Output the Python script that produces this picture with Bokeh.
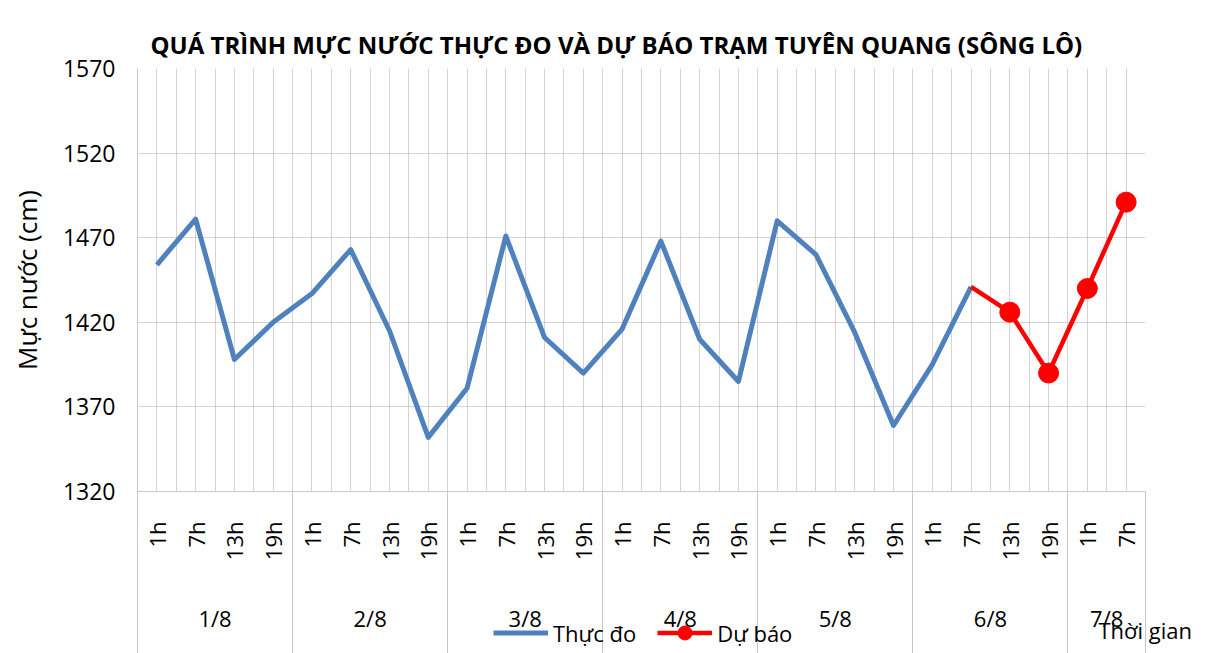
import math
from bokeh.plotting import figure
from bokeh.layouts import column
from bokeh.models import (FactorRange, Range1d, CategoricalAxis, LinearAxis, FixedTicker, Grid,
                          Legend, LegendItem, Label, Title)
from bokeh.embed import file_html
from bokeh.resources import INLINE

# ---------------- data ----------------
days = ["1/8", "2/8", "3/8", "4/8", "5/8", "6/8", "7/8"]
hours = ["1h", "7h", "13h", "19h"]
hours_last_day = ["1h", "7h"]

observed = [1454, 1481, 1398, 1420,
            1437, 1463, 1415, 1352,
            1381, 1471, 1411, 1390,
            1416, 1468, 1410, 1385,
            1480, 1460, 1414, 1359,
            1395, 1441]
forecast = [1441, 1426, 1390, 1440, 1491]

y_ticks = [1320, 1370, 1420, 1470, 1520, 1570]

title_text = "QUÁ TRÌNH MỰC NƯỚC THỰC ĐO VÀ DỰ BÁO TRẠM TUYÊN QUANG (SÔNG LÔ)"
y_label = "Mực nước (cm)"
x_label = "Thời gian"
obs_name = "Thực đo"
fc_name = "Dự báo"

factors = [(d, h) for d in days[:-1] for h in hours] + [(days[-1], h) for h in hours_last_day]
obs_x = factors[:len(observed)]
fc_x = factors[len(observed) - 1:len(observed) - 1 + len(forecast)]

# ---------------- style / layout ----------------
FONT = "Open Sans"
GRAY = "#c8c8c8"
GRID = "#a8a8a8"
BLUE = "#4f81bd"
RED = "#ff0000"
y_min, y_max = y_ticks[0], y_ticks[-1]

W, H = 1219, 653
H_MAIN = 640
B_LEFT, B_RIGHT, B_TOP = 137, 74, 68
FRAME_BOTTOM = 491
H_STRIP = H - FRAME_BOTTOM

x_range = FactorRange(factors=factors, factor_padding=0, group_padding=0,
                      subgroup_padding=0, range_padding=0)
p = figure(width=W, height=H_MAIN, x_range=x_range, y_range=Range1d(y_min, y_max),
           output_backend="svg", toolbar_location=None,
           x_axis_location=None, y_axis_location=None,
           min_border_left=B_LEFT, min_border_right=B_RIGHT, min_border_top=B_TOP,
           min_border_bottom=H_MAIN - FRAME_BOTTOM)
p.center = []   # drop default grids
p.outline_line_color = None
p.background_fill_color = "white"
p.border_fill_color = "white"

p.title = Title(text=title_text, align="left", offset=13, text_font=FONT,
                text_font_size="24px", text_font_style="bold", text_color="black", standoff=15)

# grids (dotted, at every category and between categories)
n_cat = len(factors)
xgrid = Grid(dimension=0, ticker=FixedTicker(ticks=[0.5 * i for i in range(1, 2 * n_cat + 1)]),
             grid_line_color=GRID, grid_line_dash="1 1", grid_line_width=1)
ygrid = Grid(dimension=1, ticker=FixedTicker(ticks=y_ticks),
             grid_line_color=GRID, grid_line_dash="1 1", grid_line_width=1)
p.add_layout(xgrid, "center")
p.add_layout(ygrid, "center")

# y axis
yaxis = LinearAxis(ticker=FixedTicker(ticks=y_ticks), axis_label=y_label,
                   axis_label_text_font=FONT, axis_label_text_font_size="26px",
                   axis_label_text_font_style="normal", axis_label_text_color="black",
                   axis_label_standoff=15,
                   major_label_text_font=FONT, major_label_text_font_size="23px",
                   major_label_text_color="black", major_label_standoff=22,
                   major_tick_out=0, major_tick_in=0, minor_tick_out=0, minor_tick_in=0,
                   axis_line_color=GRAY)
p.add_layout(yaxis, "left")

# x axis: hours (inner level)
xa = CategoricalAxis(major_label_orientation=math.pi / 2, major_label_standoff=30,
                     major_label_text_font=FONT, major_label_text_font_size="22px",
                     major_label_text_color="black",
                     group_text_font_size="1px", group_text_alpha=0,
                     major_tick_out=0, major_tick_in=0,
                     axis_line_color=GRAY, separator_line_color=None)
p.add_layout(xa, "below")
# x axis: days (outer level)
xb = CategoricalAxis(major_label_text_font_size="1px", major_label_text_alpha=0,
                     major_label_standoff=39,
                     group_text_font=FONT, group_text_font_size="22px", group_text_color="black",
                     group_text_font_style="normal", group_label_orientation="horizontal",
                     major_tick_out=0, major_tick_in=0,
                     axis_line_color=None, separator_line_color=None)
p.add_layout(xb, "below")

# series
p.line(obs_x, observed, line_color=BLUE, line_width=5, line_join="round")
p.line(fc_x, forecast, line_color=RED, line_width=4.5, line_join="round")
p.scatter(fc_x[1:], forecast[1:], size=20, marker="circle", fill_color=RED, line_color=RED)

# ---------------- transparent overlay strip under the plot area ----------------
cat_px = (W - B_LEFT - B_RIGHT) / n_cat
p2 = figure(width=W, height=H_STRIP,
            x_range=Range1d(-B_LEFT / cat_px, n_cat + B_RIGHT / cat_px), y_range=Range1d(0, 1),
            output_backend="svg", toolbar_location=None,
            x_axis_location=None, y_axis_location=None,
            min_border_left=0, min_border_right=0, min_border_top=0, min_border_bottom=0,
            margin=(-(H_MAIN - FRAME_BOTTOM), 0, 0, 0))
p2.center = []
p2.outline_line_color = None
p2.background_fill_alpha = 0
p2.border_fill_alpha = 0
for fig in (p, p2):
    if "frame_align" in fig.properties():
        fig.frame_align = False

# day separators and side lines of the category area
bounds = [0]
for d in days:
    bounds.append(bounds[-1] + sum(1 for f in factors if f[0] == d))
sep = Grid(dimension=0, ticker=FixedTicker(ticks=bounds),
           grid_line_color=GRAY, grid_line_width=1)
p2.add_layout(sep, "center")

# legend-only renderers (one placeholder row each, nothing visible in the strip)
nan = float("nan")
leg_blue = p2.line(x=[nan], y=[nan], line_color=BLUE, line_width=5)
leg_red = p2.line(x=[nan], y=[nan], line_color=RED, line_width=4.5)
leg_red_pt = p2.scatter(x=[nan], y=[nan], size=20, marker="circle",
                        fill_color=RED, line_color=RED)

legend = Legend(items=[LegendItem(label=obs_name, renderers=[leg_blue]),
                       LegendItem(label=fc_name, renderers=[leg_red, leg_red_pt])],
                orientation="horizontal", location=(493, 3),
                border_line_color=None, background_fill_alpha=0,
                label_text_font=FONT, label_text_font_size="22px", label_text_color="black",
                glyph_width=55, glyph_height=35, spacing=21, padding=0, margin=0,
                label_standoff=5)
p2.add_layout(legend, "center")

p2.add_layout(Label(x=1098, y=24, x_units="screen", y_units="screen", text=x_label,
                    text_font=FONT, text_font_size="22px", text_color="black",
                    text_baseline="middle", text_align="left"))

open("out.html", "w").write(file_html(column(p, p2), INLINE))
